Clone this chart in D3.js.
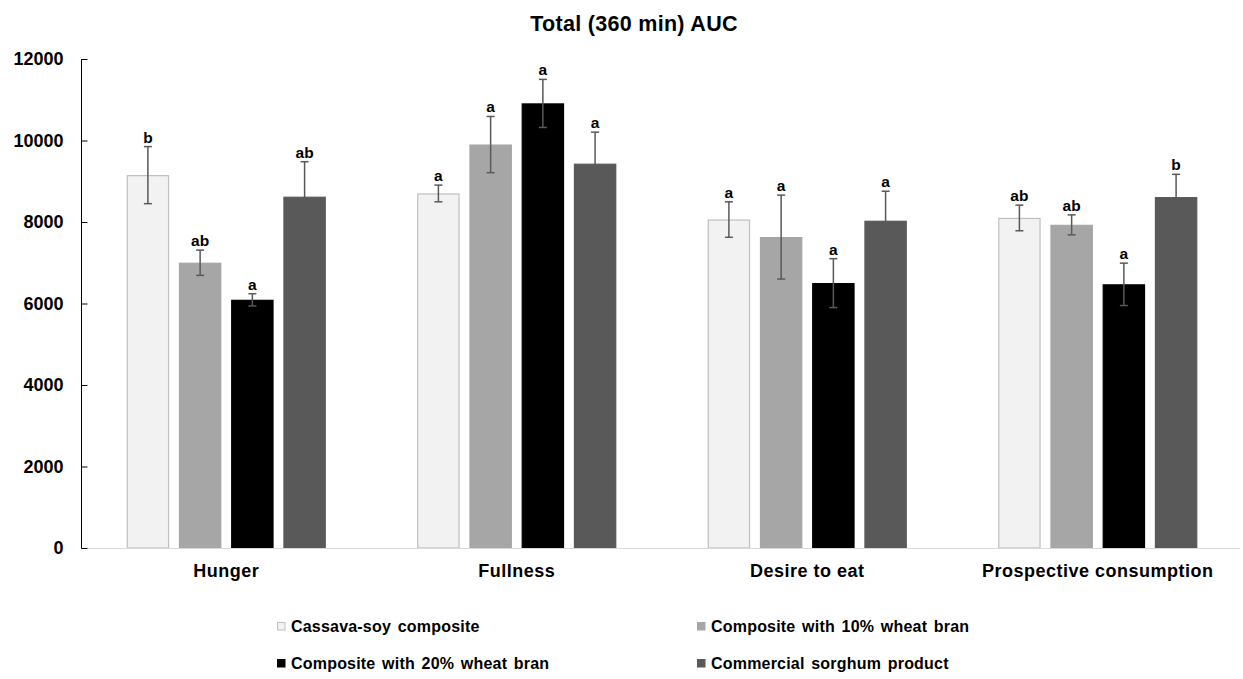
<!DOCTYPE html>
<html>
<head>
<meta charset="utf-8">
<script src="https://cdn.jsdelivr.net/npm/d3@7"></script>
<style>
  html, body { margin: 0; padding: 0; background: #fff; }
  svg { display: block; font-family: "Liberation Sans", Arial, sans-serif; }
</style>
</head>
<body>
<svg id="chart" width="1243" height="679"></svg>
<script>
// Appetite measures (categories) and products (series)
const categories = ["Hunger", "Fullness", "Desire to eat", "Prospective consumption"];
const seriesNames = [
  "Cassava-soy composite",
  "Composite with 10% wheat bran",
  "Composite with 20% wheat bran",
  "Commercial sorghum product"
];
// Mean AUC per product, in category order
const cassavaSoy   = [9150, 8700, 8060, 8100];
const wheatBran10  = [7000, 9900, 7630, 7930];
const wheatBran20  = [6090, 10910, 6500, 6470];
const sorghum      = [8620, 9430, 8030, 8610];
// Error (±) per product
const errCassavaSoy  = [700, 205, 435, 315];
const errWheatBran10 = [310, 690, 1030, 245];
const errWheatBran20 = [150, 590, 600, 520];
const errSorghum     = [860, 775, 725, 560];
// Significance letters per product
const letCassavaSoy  = ["b", "a", "a", "ab"];
const letWheatBran10 = ["ab", "a", "a", "ab"];
const letWheatBran20 = ["a", "a", "a", "a"];
const letSorghum     = ["ab", "a", "a", "b"];
const yTicks = [0, 2000, 4000, 6000, 8000, 10000, 12000];

const fills   = ["#f2f2f2", "#a6a6a6", "#000000", "#595959"];
const strokes = ["#bfbfbf", "#a6a6a6", "#000000", "#595959"];

const values  = [cassavaSoy, wheatBran10, wheatBran20, sorghum];
const errors  = [errCassavaSoy, errWheatBran10, errWheatBran20, errSorghum];
const letters = [letCassavaSoy, letWheatBran10, letWheatBran20, letSorghum];

const rows = [];
categories.forEach((c, ci) => {
  seriesNames.forEach((s, si) => {
    rows.push({ cat: c, series: s, si, value: values[si][ci], err: errors[si][ci], letter: letters[si][ci] });
  });
});

const svg = d3.select("#chart");
const plotLeft = 81, plotRight = 1243, plotTop = 59, plotBottom = 548;

const x0 = d3.scaleBand().domain(categories).range([plotLeft, plotRight]).paddingInner(0).paddingOuter(0);
const groupW = 199;
const x1 = d3.scaleBand().domain(seriesNames).range([0, groupW]).paddingInner(0.19).paddingOuter(0);
const y = d3.scaleLinear().domain([0, 12000]).range([plotBottom, plotTop]);

const barX = d => x0(d.cat) + (x0.bandwidth() - groupW) / 2 + x1(d.series);

// Title
svg.append("text")
  .attr("x", 634).attr("y", 31)
  .attr("text-anchor", "middle")
  .attr("font-size", 21.5).attr("font-weight", "bold")
  .attr("letter-spacing", 0.3)
  .attr("fill", "#000")
  .text("Total (360 min) AUC");

// Bars
svg.append("g").selectAll("rect").data(rows).join("rect")
  .attr("x", d => barX(d) + 0.5)
  .attr("y", d => y(d.value) + 0.5)
  .attr("width", x1.bandwidth() - 1)
  .attr("height", d => y(0) - y(d.value) - 0.5)
  .attr("fill", d => fills[d.si])
  .attr("stroke", d => strokes[d.si])
  .attr("stroke-width", 1.2);

// Category axis (light baseline)
svg.append("line")
  .attr("x1", plotLeft).attr("x2", plotRight - 3)
  .attr("y1", plotBottom + 0.5).attr("y2", plotBottom + 0.5)
  .attr("stroke", "#d9d9d9").attr("stroke-width", 1.2);

// Error bars
const eb = svg.append("g").attr("stroke", "#595959").attr("stroke-width", 1.5);
rows.forEach(d => {
  const cx = barX(d) + x1.bandwidth() / 2;
  const yt = y(d.value + d.err), yb = y(d.value - d.err);
  eb.append("line").attr("x1", cx).attr("x2", cx).attr("y1", yt).attr("y2", yb);
  eb.append("line").attr("x1", cx - 4).attr("x2", cx + 4).attr("y1", yt).attr("y2", yt);
  eb.append("line").attr("x1", cx - 4).attr("x2", cx + 4).attr("y1", yb).attr("y2", yb);
});

// Significance letters
svg.append("g").selectAll("text").data(rows).join("text")
  .attr("x", d => barX(d) + x1.bandwidth() / 2)
  .attr("y", d => y(d.value + d.err) - 4)
  .attr("text-anchor", "middle")
  .attr("font-size", 15.5).attr("font-weight", "bold")
  .attr("fill", "#000")
  .text(d => d.letter);

// Y axis, ticks pointing into the plot
const yAxis = d3.axisLeft(y).tickValues(yTicks).tickSize(-6).tickPadding(18).tickFormat(d3.format("d"));
const yg = svg.append("g").attr("transform", `translate(${plotLeft + 0.5},0)`).call(yAxis);
yg.select(".domain").attr("stroke", "#000").attr("d", `M0,${plotTop}V${plotBottom + 0.5}`);
yg.selectAll(".tick line").attr("stroke", "#000");
yg.selectAll(".tick text")
  .attr("font-size", 18).attr("font-weight", "bold")
  .attr("font-family", "Liberation Sans, Arial, sans-serif")
  .attr("fill", "#000");

// Category labels
svg.append("g").selectAll("text").data(categories).join("text")
  .attr("x", d => x0(d) + x0.bandwidth() / 2)
  .attr("y", 577)
  .attr("text-anchor", "middle")
  .attr("font-size", 18).attr("font-weight", "bold")
  .attr("letter-spacing", 0.5)
  .attr("fill", "#000")
  .text(d => d);

// Legend
const legendPos = [[277, 632], [697, 632], [277, 669], [697, 669]];
const lg = svg.append("g");
seriesNames.forEach((s, i) => {
  const [lx, ly] = legendPos[i];
  lg.append("rect")
    .attr("x", lx + 0.5).attr("y", ly - 9.5)
    .attr("width", 7.5).attr("height", 7.5)
    .attr("fill", fills[i]).attr("stroke", strokes[i]).attr("stroke-width", 1);
  lg.append("text")
    .attr("x", lx + 14).attr("y", ly)
    .attr("font-size", 16).attr("font-weight", "bold")
    .attr("letter-spacing", 0.2).attr("word-spacing", 2)
    .attr("fill", "#000")
    .text(s);
});
</script>
</body>
</html>
